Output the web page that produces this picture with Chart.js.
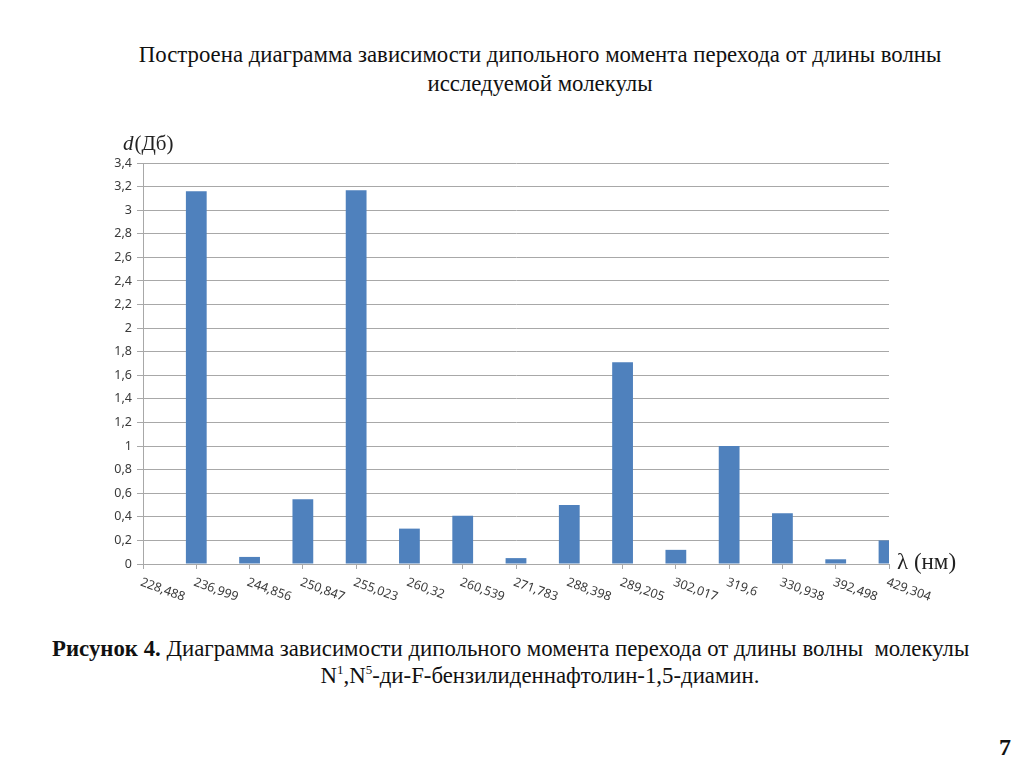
<!DOCTYPE html>
<html lang="ru">
<head>
    <meta charset="UTF-8">
    <title>Дипольный момент перехода</title>
    <script src="https://cdn.jsdelivr.net/npm/chart.js"></script>
    <style>
        html, body {
            margin: 0;
            padding: 0;
            background: #ffffff;
            width: 1024px;
            height: 767px;
            overflow: hidden;
            font-family: "Liberation Serif", "Times New Roman", serif;
            color: #111;
        }
        .title {
            position: absolute;
            left: 40px;
            width: 1000px;
            top: 40px;
            font-size: 22.8px;
            line-height: 29px;
            text-align: center;
        }
        .caption1 {
            position: absolute;
            left: 52px;
            top: 635px;
            font-size: 22.8px;
            line-height: 27px;
            white-space: nowrap;
        }
        .caption2 {
            position: absolute;
            left: 40px;
            width: 1000px;
            top: 662px;
            font-size: 22.8px;
            line-height: 27px;
            text-align: center;
        }
        .page-num {
            position: absolute;
            left: 999px;
            top: 734px;
            font-size: 24px;
            font-weight: bold;
        }
        #chartBox {
            position: absolute;
            left: 0;
            top: 130px;
            width: 1024px;
            height: 500px;
        }
        sup { font-size: 13px; line-height: 0; }
    </style>
</head>
<body>

    <div class="title">Построена диаграмма зависимости дипольного момента перехода от длины волны<br>исследуемой молекулы</div>

    <div id="chartBox">
        <canvas id="dipoleChart"></canvas>
    </div>

    <div class="caption1"><b>Рисунок 4.</b> Диаграмма зависимости дипольного момента перехода от длины волны&nbsp; молекулы</div>
    <div class="caption2">N<sup>1</sup>,N<sup>5</sup>-ди-F-бензилиденнафтолин-1,5-диамин.</div>

    <div class="page-num">7</div>

    <script>
        // wavelengths (nm) as printed on the x axis
        const wavelengths = ['228,488', '236,999', '244,856', '250,847', '255,023', '260,32', '260,539',
            '271,783', '288,398', '289,205', '302,017', '319,6', '330,938', '392,498', '429,304'];
        // transition dipole moment, Debye
        const dipole = [0, 3.16, 0.06, 0.55, 3.17, 0.30, 0.41, 0.05, 0.50, 1.71, 0.12, 1.00, 0.43, 0.04, 0.20];
        const yMin = 0;
        const yMax = 3.4;
        const yStep = 0.2;

        const gridGray = '#a8a8a8';
        const tickText = '#3a3a3a';

        // x labels run down to the right, Chart.js can't rotate that way itself
        const labelsPlugin = {
            id: 'customLabels',
            afterDraw(chart) {
                const ctx = chart.ctx;
                const xs = chart.scales.x;
                const area = chart.chartArea;
                ctx.save();
                ctx.fillStyle = tickText;
                ctx.font = '12.5px "Noto Sans", sans-serif';
                ctx.textAlign = 'left';
                ctx.textBaseline = 'top';
                wavelengths.forEach((lbl, i) => {
                    const px = xs.getPixelForTick(i);
                    ctx.save();
                    ctx.translate(px, xs.top + 12);
                    ctx.rotate(20 * Math.PI / 180);
                    ctx.fillText(lbl, 0, 0);
                    ctx.restore();
                });

                // axis titles
                ctx.fillStyle = '#222';
                ctx.textBaseline = 'alphabetic';
                ctx.font = 'italic 21px "Liberation Serif", serif';
                const dx = area.left - 20;
                const dy = area.top - 13;
                ctx.fillText('d', dx, dy);
                const dw = ctx.measureText('d').width;
                ctx.font = '21px "Liberation Serif", serif';
                ctx.fillText('(Дб)', dx + dw + 1, dy);

                ctx.font = '23px "Liberation Serif", serif';
                ctx.fillText('λ (нм)', area.right + 8, xs.top + 5);
                ctx.restore();
            }
        };

        const ctx = document.getElementById('dipoleChart').getContext('2d');
        new Chart(ctx, {
            type: 'bar',
            data: {
                labels: wavelengths,
                datasets: [{
                    data: dipole,
                    backgroundColor: '#4f81bd',
                    borderWidth: 0,
                    barPercentage: 1,
                    categoryPercentage: 0.39,
                    clip: 0
                }]
            },
            options: {
                responsive: true,
                maintainAspectRatio: false,
                animation: false,
                layout: {
                    padding: { left: 100, right: 135, top: 33, bottom: 46 }
                },
                plugins: {
                    legend: { display: false },
                    tooltip: { enabled: false }
                },
                scales: {
                    x: {
                        offset: false,
                        grid: {
                            offset: false,
                            drawOnChartArea: false,
                            drawTicks: true,
                            tickLength: 5,
                            color: gridGray
                        },
                        border: { color: gridGray },
                        ticks: { display: false },
                        afterFit: scale => { scale.height = 20; }
                    },
                    y: {
                        min: yMin,
                        max: yMax,
                        grid: {
                            color: gridGray,
                            tickLength: 6
                        },
                        border: { color: gridGray },
                        ticks: {
                            stepSize: yStep,
                            padding: 5,
                            color: tickText,
                            font: { family: '"Noto Sans", sans-serif', size: 12.5 },
                            callback: v => String(Number(v.toFixed(1))).replace('.', ',')
                        },
                        afterFit: scale => { scale.width = 43; }
                    }
                }
            },
            plugins: [labelsPlugin]
        });
    </script>
</body>
</html>
